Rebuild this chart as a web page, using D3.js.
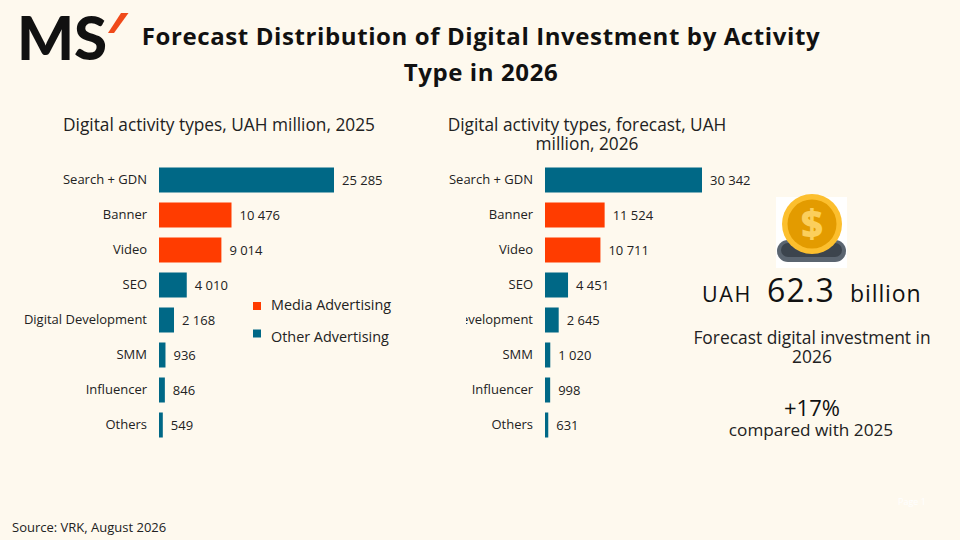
<!DOCTYPE html>
<html>
<head>
  <meta charset="utf-8">
  <title>Forecast Distribution of Digital Investment</title>
  <script src="https://cdn.jsdelivr.net/npm/d3@7"></script>
  <style>
    html, body { margin: 0; padding: 0; background: #fef9ee; }
    svg { display: block; font-family: "Open Sans", sans-serif; }
  </style>
</head>
<body>
  <script>
    // Data
    const categories = ["Search + GDN", "Banner", "Video", "SEO", "Digital Development", "SMM", "Influencer", "Others"];
    const values2025 = [25285, 10476, 9014, 4010, 2168, 936, 846, 549];
    const values2026 = [30342, 11524, 10711, 4451, 2645, 1020, 998, 631];
    const groups = ["Other", "Media", "Media", "Other", "Other", "Other", "Other", "Other"];
    const legendLabels = ["Media Advertising", "Other Advertising"];

    const colors = { Media: "#ff3c00", Other: "#006886" };
    const txt = "#222";

    const w = 960, h = 540;
    const svg = d3.select("body").append("svg")
      .attr("width", w)
      .attr("height", h);

    svg.append("rect").attr("width", w).attr("height", h).attr("fill", "#fef9ee");

    // number format with space separator
    const loc = d3.formatLocale({ decimal: ".", thousands: " ", grouping: [3], currency: ["", ""] });
    const fmt = loc.format(",d");

    // Logo
    svg.append("text")
      .attr("x", 17).attr("y", 60)
      .attr("font-family", "Lato, Inter, sans-serif")
      .attr("font-weight", 900)
      .attr("font-size", 60)
      .attr("fill", "#111")
      .text("MS");
    svg.append("path")
      .attr("d", "M121,13 L128.5,13 L114,33 L108,33 Z")
      .attr("fill", "#f04a1a");

    // Title
    const title = svg.append("text")
      .attr("text-anchor", "middle")
      .attr("font-weight", 700)
      .attr("font-size", 24)
      .attr("letter-spacing", 0.6)
      .attr("fill", "#111");
    title.append("tspan").attr("x", 481).attr("y", 45).text("Forecast Distribution of Digital Investment by Activity");
    title.append("tspan").attr("x", 481).attr("y", 81).text("Type in 2026");

    // y scale shared by both charts
    const y = d3.scaleBand()
      .domain(categories)
      .range([162.5, 442.5])
      .paddingInner(0.2857)
      .paddingOuter(0.1428);

    function drawChart(values, x0, x1, clipLeft, subtitleLines, subX) {
      const x = d3.scaleLinear()
        .domain([0, d3.max(values)])
        .range([x0, x1]);

      const sub = svg.append("text")
        .attr("text-anchor", "middle")
        .attr("font-size", 17.3)
        .attr("fill", txt);
      subtitleLines.forEach(function (line, i) {
        sub.append("tspan").attr("x", subX).attr("y", 131 + i * 19).text(line);
      });

      const g = svg.append("g");

      g.selectAll("rect.bar")
        .data(values)
        .enter()
        .append("rect")
        .attr("class", "bar")
        .attr("x", x(0))
        .attr("y", function (d, i) { return y(categories[i]); })
        .attr("width", function (d) { return x(d) - x(0); })
        .attr("height", y.bandwidth())
        .attr("fill", function (d, i) { return colors[groups[i]]; });

      g.selectAll("text.val")
        .data(values)
        .enter()
        .append("text")
        .attr("class", "val")
        .attr("x", function (d) { return x(d) + 8; })
        .attr("y", function (d, i) { return y(categories[i]) + y.bandwidth() / 2; })
        .attr("dy", "0.35em")
        .attr("font-size", 13)
        .attr("fill", txt)
        .text(function (d) { return fmt(d); });

      // category axis (labels cut off at the plot's left edge where they overflow)
      const axisG = g.append("g");
      if (clipLeft) {
        const id = "clip" + x0;
        svg.append("clipPath").attr("id", id)
          .selectAll("rect")
          .data(categories)
          .enter()
          .append("rect")
          .attr("x", function (d) { return clipLeft(d); })
          .attr("y", function (d) { return y(d) - 5; })
          .attr("width", function (d) { return x0 - clipLeft(d); })
          .attr("height", y.step());
        axisG.attr("clip-path", "url(#" + id + ")");
      }
      axisG.append("g")
        .attr("transform", "translate(" + (x0 - 12) + ",0)")
        .call(d3.axisLeft(y).tickSize(0).tickPadding(0))
        .call(function (a) { a.select(".domain").remove(); })
        .selectAll("text")
        .attr("font-family", "Open Sans, sans-serif")
        .attr("font-size", 13)
        .attr("fill", txt);
    }

    drawChart(values2025, 159, 334, null, ["Digital activity types, UAH million, 2025"], 219);
    drawChart(values2026, 545, 702, function (d) { return d.length > 14 ? 466 : 440; },
      ["Digital activity types, forecast, UAH", "million, 2026"], 587);

    // Legend
    const legend = svg.append("g");
    legendLabels.forEach(function (label, i) {
      const key = i === 0 ? "Media" : "Other";
      legend.append("rect")
        .attr("x", 253).attr("y", 302 + i * 27.5)
        .attr("width", 8).attr("height", 8)
        .attr("fill", colors[key]);
      legend.append("text")
        .attr("x", 271).attr("y", 310 + i * 32)
        .attr("font-size", 14.4)
        .attr("fill", txt)
        .text(label);
    });

    // Coin icon
    const coin = svg.append("g");
    coin.append("rect").attr("x", 776).attr("y", 197).attr("width", 71).attr("height", 71).attr("fill", "#ffffff");
    coin.append("rect").attr("x", 777).attr("y", 240).attr("width", 69).attr("height", 22).attr("rx", 11).attr("fill", "#5b6570");
    coin.append("rect").attr("x", 781).attr("y", 243).attr("width", 61).attr("height", 14).attr("rx", 7).attr("fill", "#3c444d");
    coin.append("circle").attr("cx", 812).attr("cy", 224).attr("r", 30).attr("fill", "#fcbf2e");
    coin.append("circle").attr("cx", 812).attr("cy", 224).attr("r", 24.5).attr("fill", "#e39b00");
    coin.append("text")
      .attr("x", 812).attr("y", 224).attr("dy", "0.36em")
      .attr("text-anchor", "middle")
      .attr("font-family", "Open Sans, sans-serif")
      .attr("font-weight", 800)
      .attr("font-size", 38)
      .attr("fill", "#fbcf5c")
      .text("$");

    // Key figure
    const big = svg.append("text")
      .attr("y", 302)
      .attr("fill", "#111");
    big.append("tspan").attr("x", 702).attr("font-size", 21.5).attr("letter-spacing", 1.6).text("UAH");
    big.append("tspan").attr("x", 767).attr("font-size", 32).attr("letter-spacing", 1.2).text("62.3");
    big.append("tspan").attr("x", 850).attr("font-size", 23).attr("letter-spacing", 0.9).text("billion");

    const note = svg.append("text")
      .attr("text-anchor", "middle")
      .attr("font-size", 17.4)
      .attr("fill", txt);
    note.append("tspan").attr("x", 812).attr("y", 344).text("Forecast digital investment in");
    note.append("tspan").attr("x", 812).attr("y", 363).text("2026");

    svg.append("text")
      .attr("x", 812).attr("y", 416)
      .attr("text-anchor", "middle")
      .attr("font-size", 22)
      .attr("fill", "#111")
      .text("+17%");
    svg.append("text")
      .attr("x", 811).attr("y", 436)
      .attr("text-anchor", "middle")
      .attr("font-size", 17.2)
      .attr("fill", txt)
      .text("compared with 2025");

    // Footer
    svg.append("text")
      .attr("x", 12).attr("y", 532)
      .attr("font-size", 13)
      .attr("fill", txt)
      .text("Source: VRK, August 2026");
    svg.append("text")
      .attr("x", 898).attr("y", 505)
      .attr("font-size", 9)
      .attr("fill", "#ffffff")
      .text("Page 1");
  </script>
</body>
</html>
